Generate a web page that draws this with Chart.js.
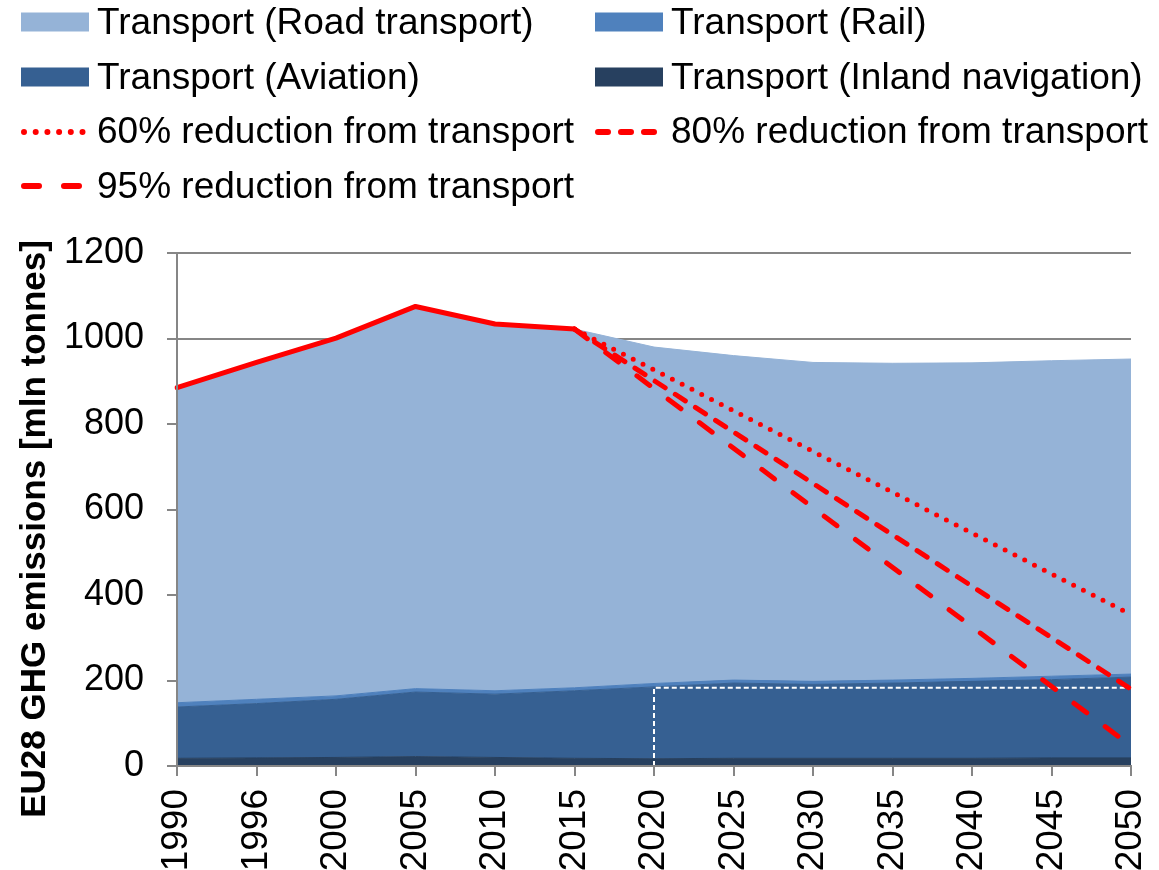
<!DOCTYPE html>
<html>
<head>
<meta charset="utf-8">
<script src="https://cdn.jsdelivr.net/npm/chart.js@4"></script>
<style>
  html, body { margin: 0; padding: 0; background: #fff; }
  #wrap { position: relative; width: 1159px; height: 870px; overflow: hidden; }
  #legend { position: absolute; left: 21px; top: -5px; display: grid; grid-template-columns: 574px 560px;
            font-family: Arial, "Liberation Sans", sans-serif; font-size: 37px; color: #000; }
  .item { display: flex; align-items: center; height: 54.7px; line-height: 54.7px; white-space: nowrap; }
  .item canvas { margin-right: 8px; }
</style>
</head>
<body>
<div id="wrap">
  <canvas id="myChart"></canvas>
  <div id="legend"></div>
</div>
<script>
// datos (mln toneladas)
const years = ['1990', '1996', '2000', '2005', '2010', '2015', '2020', '2025', '2030', '2035', '2040', '2045', '2050'];
const inland = [18, 19, 20, 22, 20, 18, 17, 18, 18, 18, 18, 19, 19];
const aviation = [120, 127, 136, 151, 148, 158, 168, 176, 173, 176, 180, 183, 189];
const rail = [10, 10, 8, 8, 8, 7, 8, 7, 7, 7, 7, 8, 7];
const road = [737, 788, 837, 894, 858, 839, 787, 759, 746, 741, 738, 738, 737];
const historic = [885, 944, 1001, 1075, 1034, 1022, null, null, null, null, null, null, null];
const cut60 = [null, null, null, null, null, 1022, null, null, null, null, null, null, 354];
const cut80 = [null, null, null, null, null, 1022, null, null, null, null, null, null, 180];
const cut95 = [null, null, null, null, null, 1022, null, null, null, null, null, null, 47];
const boxYears = ['2020', '2020', '2050'];
const boxValues = [0, 183, 183];
const yTicks = [0, 200, 400, 600, 800, 1000, 1200];

const FONT = 'Arial, "Liberation Sans", sans-serif';

function area(label, data, color, i) {
  return {
    label: label, data: data, stack: 'areas',
    backgroundColor: color, borderColor: color, borderWidth: 1,
    fill: i === 0 ? 'origin' : '-1', pointRadius: 0, tension: 0
  };
}
function redLine(label, data, dash, stack) {
  return {
    label: label, data: data, stack: stack, spanGaps: true,
    borderColor: '#FF0000', borderWidth: 5, borderDash: dash, borderCapStyle: 'round',
    borderJoinStyle: 'round', fill: false, pointRadius: 0, tension: 0
  };
}

const datasets = [
  redLine('', historic, [], 'h'),
  redLine('60% reduction from transport', cut60, [0, 11], 'a'),
  redLine('80% reduction from transport', cut80, [12, 12], 'b'),
  redLine('95% reduction from transport', cut95, [16, 23], 'c'),
  {
    label: '', stack: 'box', data: boxYears.map((y, i) => ({ x: y, y: boxValues[i] })),
    borderColor: '#FFFFFF', borderWidth: 2, borderDash: [5, 3], fill: false, pointRadius: 0, tension: 0
  },
  area('Transport (Inland navigation)', inland, '#27405F', 0),
  area('Transport (Aviation)', aviation, '#366092', 1),
  area('Transport (Rail)', rail, '#4F81BD', 2),
  area('Transport (Road transport)', road, '#95B3D7', 3)
];

const ctx = document.getElementById('myChart').getContext('2d');
const myChart = new Chart(ctx, {
  type: 'line',
  data: { labels: years, datasets: datasets },
  options: {
    responsive: true,
    maintainAspectRatio: false,
    animation: false,
    layout: { padding: { top: 253, right: 0, bottom: 0, left: 0 } },
    plugins: { legend: { display: false }, tooltip: { enabled: false } },
    scales: {
      x: {
        afterFit: s => { s.height = 104; s.paddingRight = 28; s.paddingLeft = 0; },
        grid: { drawOnChartArea: false, drawTicks: true, tickLength: 10, color: '#868686', lineWidth: 2 },
        border: { display: true, color: '#868686', width: 2, z: 1 },
        ticks: { autoSkip: false, maxRotation: 90, minRotation: 90, padding: 13, color: '#000', font: { family: FONT, size: 37 } }
      },
      y: {
        stacked: true, min: 0, max: 1200,
        afterFit: s => { s.width = 177; },
        afterBuildTicks: axis => { axis.ticks = yTicks.map(v => ({ value: v })); },
        grid: { color: '#868686', lineWidth: 2, tickLength: 10 },
        border: { display: true, color: '#868686', width: 2, z: 1 },
        ticks: { padding: 23, color: '#000', font: { family: FONT, size: 36 }, callback: v => String(v) },
        title: {
          display: true, text: 'EU28 GHG emissions [mln tonnes]    ', color: '#000',
          font: { family: FONT, size: 35, weight: 'bold' }, padding: { top: 14, bottom: 7 }
        }
      }
    }
  }
});

// leyenda en dos columnas
const legendOrder = [
  'Transport (Road transport)', 'Transport (Rail)',
  'Transport (Aviation)', 'Transport (Inland navigation)',
  '60% reduction from transport', '80% reduction from transport',
  '95% reduction from transport'
];
const legendDash = { '60% reduction from transport': [0, 11.7], '80% reduction from transport': [10, 13], '95% reduction from transport': [15, 25] };
const legendEl = document.getElementById('legend');
legendOrder.forEach(name => {
  const ds = datasets.find(d => d.label === name);
  const item = document.createElement('div');
  item.className = 'item';
  const sw = document.createElement('canvas');
  sw.width = 68; sw.height = 24;
  const c = sw.getContext('2d');
  if (ds.stack === 'areas') {
    c.fillStyle = ds.backgroundColor;
    c.fillRect(0, 2.5, 68, 19);
  } else {
    c.strokeStyle = ds.borderColor;
    c.lineWidth = 6;
    c.lineCap = 'round';
    c.setLineDash(legendDash[name]);
    c.beginPath();
    c.moveTo(3, 12);
    c.lineTo(64, 12);
    c.stroke();
  }
  const txt = document.createElement('span');
  txt.textContent = name;
  item.appendChild(sw);
  item.appendChild(txt);
  legendEl.appendChild(item);
});
</script>
</body>
</html>
